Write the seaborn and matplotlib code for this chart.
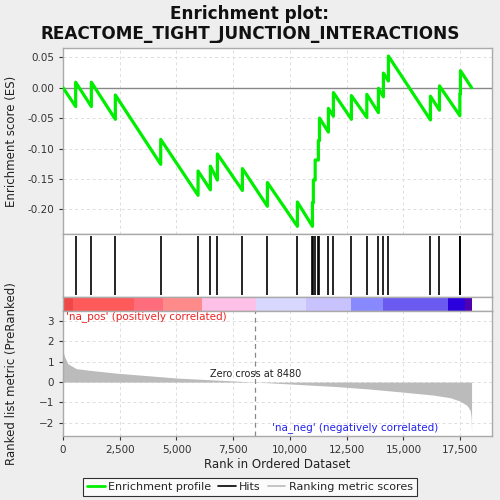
import numpy as np
import pandas as pd
import matplotlib
matplotlib.use("Agg")
import matplotlib.pyplot as plt
from matplotlib.lines import Line2D
from matplotlib.ticker import FuncFormatter
import seaborn as sns

# ---------------- data ----------------
n_genes = 18000
zero_cross = 8480
hit_ranks = [558, 1249, 2306, 4305, 5950, 6493, 6802, 7904, 9005, 10326,
             10990, 11030, 11110, 11250, 11300, 11692, 11913, 12706, 13385,
             13896, 14116, 14337, 16188, 16585, 17484, 17510]
es_before = [-0.031, -0.031, -0.052, -0.126, -0.177, -0.168, -0.152, -0.169,
             -0.195, -0.228, -0.228, -0.189, -0.152, -0.119, -0.087, -0.073,
             -0.047, -0.052, -0.049, -0.041, -0.015, 0.011, -0.053, -0.037,
             -0.046, -0.010]
es_after = [0.009, 0.009, -0.012, -0.085, -0.137, -0.129, -0.109, -0.133,
            -0.156, -0.188, -0.189, -0.152, -0.119, -0.087, -0.050, -0.034,
            -0.008, -0.013, -0.011, -0.001, 0.024, 0.052, -0.014, 0.003,
            -0.010, 0.028]

metric_ranks = [0, 20, 73, 220, 590, 1176, 2350, 5000, 8480, 11900, 13380,
                14850, 16320, 17060, 17500, 17800, 17940, 17980, 18000]
metric_vals = [1.70, 1.45, 1.24, 0.90, 0.66, 0.58, 0.44, 0.20, 0.0, -0.21,
               -0.33, -0.48, -0.64, -0.77, -0.94, -1.15, -1.40, -1.73, -2.42]

band_starts = [0, 427, 3146, 4422, 6112, 8490, 10700, 12693, 14118, 16952, 17717]
band_ends = [427, 3146, 4422, 6112, 8490, 10700, 12693, 14118, 16952, 17717, 18010]
band_colors = ["#f04848", "#ff5a5a", "#ff6c7c", "#ff8a8a", "#ffc0e8", "#d8d8ff",
               "#c8c2ff", "#8888ff", "#6a5af0", "#2a00dd", "#5000b0"]

title_text = "Enrichment plot:\nREACTOME_TIGHT_JUNCTION_INTERACTIONS"

# ---------------- build ES path table ----------------
es_x = [0]
es_y = [0.0]
for r, b, a in zip(hit_ranks, es_before, es_after):
    es_x += [r, r]
    es_y += [b, a]
es_x.append(n_genes)
es_y.append(0.0)
es_df = pd.DataFrame({"rank": es_x, "es": es_y, "order": range(len(es_x))})
metric_df = pd.DataFrame({"rank": metric_ranks, "metric": metric_vals})

# ---------------- style ----------------
sns.set_theme(style="whitegrid")
plt.rcParams["font.family"] = ["DejaVu Sans"]
plt.rcParams["axes.edgecolor"] = "#aaaaaa"
plt.rcParams["grid.color"] = "#dddddd"
plt.rcParams["grid.linestyle"] = (0, (3, 3))
plt.rcParams["grid.linewidth"] = 0.7

fig = plt.figure(figsize=(5, 5), dpi=100, facecolor="#eeeeee")
xmax = 18900
L, W = 0.126, 0.858

ax1 = fig.add_axes([L, 0.532, W, 0.372])
ax2 = fig.add_axes([L, 0.4066, W, 0.1254])
ax3 = fig.add_axes([L, 0.378, W, 0.0286])
ax4 = fig.add_axes([L, 0.1286, W, 0.2494])

for ax in (ax1, ax2, ax3, ax4):
    ax.set_facecolor("white")
    ax.set_xlim(0, xmax)
    for s in ax.spines.values():
        s.set_color("#aaaaaa")
        s.set_linewidth(1.0)

tick_kw = dict(labelsize=7.5, colors="#333333", length=3, width=0.8)

# ES panel
ax1.axhline(0, color="#888888", lw=1.0, zorder=1)
sns.lineplot(data=es_df, x="rank", y="es", sort=False, estimator=None,
             color="#00ee00", lw=2.3, ax=ax1, zorder=3)
ax1.set_ylim(-0.2406, 0.0653)
ax1.set_yticks([0.05, 0.0, -0.05, -0.10, -0.15, -0.20])
ax1.set_yticklabels(["0.05", "0.00", "-0.05", "-0.10", "-0.15", "-0.20"])
ax1.set_xticks(np.arange(0, 17501, 2500))
ax1.set_xticklabels([])
ax1.set_xlabel("")
ax1.set_ylabel("Enrichment score (ES)", fontsize=8.5, color="#222222")
ax1.tick_params(axis="y", left=True, **tick_kw)
ax1.tick_params(axis="x", bottom=False)
ax1.grid(True)

# hits panel
ax2.vlines(hit_ranks, 0.03, 0.97, color="black", lw=1.2)
ax2.set_ylim(0, 1)
ax2.set_xticks(np.arange(0, 17501, 2500))
ax2.set_xticklabels([])
ax2.set_yticks([])
ax2.tick_params(axis="x", bottom=False)
ax2.grid(False)

# color band
for s0, s1, c in zip(band_starts, band_ends, band_colors):
    ax3.axvspan(s0, s1, color=c, lw=0)
ax3.set_ylim(0, 1)
ax3.set_xticks([])
ax3.set_yticks([])
ax3.grid(False)

# metric panel
ax4.fill_between(metric_df["rank"], 0, metric_df["metric"], color="#bbbbbb", lw=0)
ax4.axvline(zero_cross, color="#888888", lw=0.9, ls=(0, (4, 3)))
ax4.set_ylim(-2.64, 3.5)
ax4.set_yticks([3, 2, 1, 0, -1, -2])
ax4.set_xticks(np.arange(0, 17501, 2500))
ax4.xaxis.set_major_formatter(FuncFormatter(lambda v, p: f"{int(v):,}"))
ax4.tick_params(axis="both", left=True, bottom=True, **tick_kw)
ax4.grid(True)
ax4.set_xlabel("Rank in Ordered Dataset", fontsize=8.5, color="#222222", labelpad=2)
ax4.set_ylabel("Ranked list metric (PreRanked)", fontsize=8.5, color="#222222")
ax4.text(zero_cross, 0.42, f"Zero cross at {zero_cross}", ha="center", va="center",
         fontsize=7, color="#222222")
ax4.text(150, 3.22, "'na_pos' (positively correlated)", ha="left", va="center",
         fontsize=7.5, color="#ee2222")
ax4.text(12870, -2.25, "'na_neg' (negatively correlated)", ha="center", va="center",
         fontsize=7.5, color="#2222ee")

# align y labels
ax1.yaxis.set_label_coords(-0.105, 0.5)
ax4.yaxis.set_label_coords(-0.105, 0.5)

fig.suptitle(title_text, fontsize=12.2, fontweight="bold", y=0.99, color="#111111",
             linespacing=1.15)

handles = [Line2D([], [], color="#00ee00", lw=2),
           Line2D([], [], color="black", lw=1.2),
           Line2D([], [], color="#bbbbbb", lw=1.2)]
leg = fig.legend(handles, ["Enrichment profile", "Hits", "Ranking metric scores"],
                 loc="center", bbox_to_anchor=(0.5, 0.026), ncol=3, fontsize=8,
                 frameon=True, fancybox=False, handlelength=1.6, handletextpad=0.3,
                 columnspacing=0.6, borderpad=0.35)
leg.get_frame().set_edgecolor("black")
leg.get_frame().set_linewidth(0.8)
leg.get_frame().set_facecolor("white")

fig.savefig("out.png", dpi=100, facecolor=fig.get_facecolor())
